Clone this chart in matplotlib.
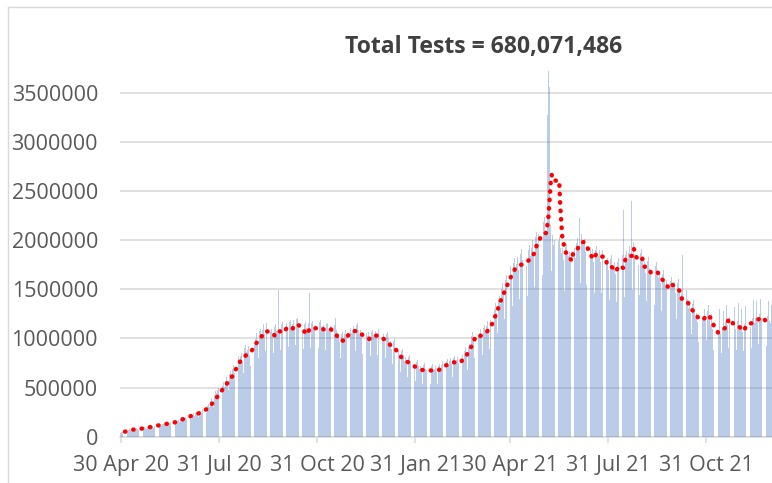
import numpy as np
import pandas as pd
import matplotlib as mpl
mpl.use('Agg')
from matplotlib import pyplot as plt
from matplotlib.lines import Line2D

# daily tests (thousands), one row per week starting 30 Apr 2020
daily_k = [
    38, 45, 52, 58, 60, 48, 55,
    70, 74, 66, 58, 72, 78, 69,
    82, 85, 79, 70, 84, 88, 76,
    92, 96, 90, 81, 95, 99, 88,
    108, 112, 104, 93, 111, 116, 103,
    122, 128, 118, 105, 126, 131, 117,
    138, 142, 131, 117, 140, 146, 130,
    158, 163, 148, 130, 160, 168, 150,
    188, 196, 176, 155, 195, 205, 180,
    218, 228, 205, 182, 225, 236, 212,
    242, 252, 232, 205, 258, 266, 240,
    285, 300, 270, 240, 310, 330, 305,
    360, 390, 345, 300, 420, 460, 440,
    480, 500, 430, 390, 520, 560, 505,
    570, 610, 550, 480, 640, 670, 600,
    690, 730, 650, 560, 780, 820, 760,
    820, 850, 760, 650, 900, 930, 860,
    880, 920, 830, 720, 960, 1000, 930,
    990, 1050, 940, 800, 1080, 1100, 1030,
    1090, 1150, 1040, 870, 1160, 1170, 1120,
    1060, 1100, 1020, 850, 1120, 1150, 1080,
    1080, 1490, 1050, 880, 1150, 1170, 1100,
    1120, 1160, 1090, 910, 1170, 1190, 1130,
    1150, 1190, 1110, 930, 1200, 1210, 1160,
    1100, 1150, 1070, 890, 1150, 1170, 1110,
    1110, 1160, 1460, 900, 1160, 1180, 1120,
    1120, 1170, 1090, 900, 1170, 1190, 1130,
    1090, 1140, 1060, 880, 1150, 1160, 1100,
    1090, 1130, 1050, 870, 1140, 1210, 1090,
    1000, 1040, 960, 800, 1040, 1060, 1000,
    1040, 1090, 1010, 840, 1090, 1110, 1050,
    1080, 1130, 1050, 870, 1140, 1160, 1090,
    1040, 1090, 1010, 840, 1100, 1120, 1050,
    1020, 1060, 980, 820, 1070, 1090, 1030,
    1040, 1080, 1000, 830, 1100, 1130, 1050,
    990, 1040, 960, 800, 1040, 1060, 1000,
    930, 970, 890, 740, 970, 990, 930,
    840, 870, 800, 660, 870, 890, 830,
    770, 810, 740, 610, 810, 830, 770,
    720, 760, 700, 570, 760, 780, 720,
    690, 720, 660, 540, 730, 750, 690,
    680, 710, 660, 540, 720, 740, 680,
    690, 720, 660, 540, 720, 740, 680,
    730, 770, 700, 580, 770, 790, 730,
    770, 800, 740, 610, 800, 820, 770,
    780, 810, 750, 610, 810, 830, 780,
    870, 910, 830, 680, 910, 940, 870,
    1020, 1070, 980, 800, 1070, 1100, 1030,
    1050, 1100, 1010, 830, 1110, 1140, 1060,
    1130, 1180, 1090, 890, 1190, 1220, 1140,
    1300, 1360, 1260, 1050, 1390, 1430, 1350,
    1500, 1560, 1450, 1200, 1590, 1640, 1540,
    1670, 1740, 1620, 1330, 1770, 1820, 1710,
    1760, 1830, 1700, 1400, 1860, 1910, 1800,
    1800, 1870, 1740, 1430, 1900, 1950, 1840,
    1920, 2000, 1850, 1520, 2030, 2080, 1960,
    2060, 2140, 1990, 1640, 2180, 2230, 2100,
    2080, 3270, 3800, 3560, 2150, 1690, 2050,
    1950, 2000, 1880, 1550, 1990, 2030, 1920,
    1870, 1920, 1800, 1480, 1930, 1960, 1850,
    1840, 1880, 1780, 1460, 2450, 1920, 1820,
    1970, 2020, 1900, 2220, 1560, 2060, 1950,
    1950, 2010, 1880, 1540, 2000, 2040, 1930,
    1850, 1910, 1780, 1460, 1900, 1940, 1830,
    1840, 1900, 1780, 1460, 1900, 1940, 1830,
    1760, 1820, 1700, 1390, 1810, 1850, 1750,
    1720, 1780, 1660, 1370, 1780, 1820, 1710,
    1790, 1850, 2310, 1420, 1850, 1890, 1780,
    1870, 1940, 1810, 2400, 1490, 1980, 1860,
    1810, 1870, 1750, 1440, 1870, 1910, 1800,
    1730, 1790, 1670, 1380, 1790, 1830, 1720,
    1690, 1740, 1630, 1340, 1740, 1780, 1680,
    1610, 1670, 1560, 1280, 1660, 1700, 1600,
    1530, 1590, 1480, 1220, 1580, 1620, 1520,
    1510, 1570, 1460, 1200, 1560, 1600, 1500,
    1400, 1460, 1850, 1120, 1450, 1490, 1400,
    1310, 1360, 1260, 1040, 1350, 1390, 1300,
    1210, 1260, 1170, 960, 1250, 1290, 1210,
    1230, 1300, 1190, 980, 1280, 1340, 1230,
    1140, 1250, 1100, 880, 1180, 1330, 1140,
    1080, 1300, 1040, 850, 1110, 1280, 1080,
    1180, 1340, 1140, 900, 1220, 1380, 1180,
    1150, 1320, 1100, 880, 1180, 1360, 1140,
    1110, 1300, 1070, 870, 1150, 1330, 1100,
    1160, 1350, 1120, 900, 1210, 1390, 1160,
    1210, 1380, 1170, 940, 1250, 1400, 1210,
    1180, 1360, 1140, 920, 1230, 1380, 1180,
    1160, 1340,
]

# 7-day moving average (days after 30 Apr 2020, thousands)
trend_day = [4, 11, 19, 27, 34, 42, 49, 56, 63, 71, 78, 84, 88, 93, 97, 102, 106, 109,
             113, 117, 123, 127, 131, 135, 141, 145, 149, 153, 156, 161, 165, 170, 174,
             178, 183, 187, 192, 197, 201, 205, 210, 214, 219, 223, 227, 233, 237, 243,
             248, 253, 257, 261, 266, 271, 276, 282, 289, 294, 299, 305, 312, 318, 323,
             327, 330, 333, 337, 342, 347, 350, 353, 355, 358, 361, 364, 367, 370, 374,
             379, 384, 388, 390, 393, 396, 399, 400, 401, 402, 403, 404, 405, 411, 412,
             413, 414, 416, 417, 419, 423, 424, 428, 431, 434, 437, 439, 443, 446, 450,
             454, 456, 459, 464, 467, 471, 473, 475, 479, 481, 483, 486, 489, 491, 494,
             497, 503, 506, 510, 514, 517, 521, 524, 526, 531, 534, 539, 542, 546, 550,
             553, 556, 560, 564, 568, 570, 575, 579, 584, 587, 592, 596, 601, 606, 610]
trend_k = [51, 71, 81, 96, 112, 129, 139, 167, 200, 228, 261, 309, 373, 438, 509, 570, 641, 712,
           783, 824, 879, 950, 1001, 1072, 1068, 1021, 1072, 1058, 1116, 1099, 1147, 1109, 1038,
           1109, 1103, 1113, 1079, 1093, 1055, 984, 974, 1045, 1075, 1072, 1031, 994, 1031, 1025,
           981, 930, 903, 831, 777, 747, 712, 679, 676, 669, 682, 726, 757, 753, 808,
           879, 946, 1028, 1025, 1052, 1119, 1198, 1276, 1353, 1428, 1510, 1581, 1659, 1713, 1744,
           1764, 1808, 1872, 1951, 2015, 2066, 2073, 2157, 2246, 2411, 2578, 2663, 2605, 2605, 2350,
           2181, 2012, 1927, 1879, 1846, 1788, 1869, 1907, 1968, 1981, 1940, 1879, 1805, 1862, 1832,
           1832, 1750, 1744, 1679, 1740, 1717, 1798, 1835, 1839, 1913, 1832, 1788, 1811, 1730, 1720,
           1669, 1679, 1618, 1571, 1506, 1547, 1513, 1483, 1404, 1381, 1310, 1248, 1198, 1191, 1241,
           1208, 1129, 1058, 1079, 1123, 1201, 1140, 1126, 1075, 1140, 1157, 1180, 1218, 1164, 1150]

tick_dates = ['2020-04-30', '2020-07-31', '2020-10-31', '2021-01-31',
              '2021-04-30', '2021-07-31', '2021-10-31']
tick_labels = ['30 Apr 20', '31 Jul 20', '31 Oct 20', '31 Jan 21',
               '30 Apr 21', '31 Jul 21', '31 Oct 21']
title = 'Total Tests = 680,071,486'

start = pd.Timestamp('2020-04-30')
dates = pd.date_range(start, periods=len(daily_k), freq='D')
tests = np.array(daily_k) * 1000
trend_dates = start + pd.to_timedelta(trend_day, unit='D')
trend = np.array(trend_k) * 1000

plt.rcParams['font.family'] = ['Open Sans', 'DejaVu Sans']
grey = '#d9d9d9'
txt = '#595959'

fig = plt.figure(figsize=(7.72, 4.83), dpi=100)
ax = fig.add_axes([0.1557, 0.0959, 0.8443, 0.757])

ax.bar(dates, tests, width=0.8, color='#4472c4', alpha=0.36, linewidth=0, zorder=2)
ax.plot(trend_dates, trend, color='#ff0000', lw=3.2, linestyle=(0, (0.1, 1.8)),
        dash_capstyle='round', zorder=3)

ax.set_xlim(start - pd.Timedelta(hours=12), dates[-1] + pd.Timedelta(hours=12))
ax.set_ylim(0, 3720000)
ax.set_yticks(np.arange(0, 3500001, 500000))
ax.set_yticklabels([str(v) for v in range(0, 3500001, 500000)])
ax.set_xticks(pd.to_datetime(tick_dates))
ax.set_xticklabels(tick_labels)

ax.grid(axis='y', color=grey, lw=1.1, zorder=0)
ax.set_axisbelow(True)
for s in ['top', 'right', 'left']:
    ax.spines[s].set_visible(False)
ax.spines['bottom'].set_color(grey)
ax.spines['bottom'].set_linewidth(1.1)
ax.spines['bottom'].set_zorder(1)
ax.tick_params(axis='x', colors=grey, length=4.3, width=1.1, pad=9,
               labelcolor=txt, labelsize=15.5)
ax.tick_params(axis='y', length=0, pad=16, labelcolor=txt, labelsize=15.5)

fig.text(0.626, 0.903, title, ha='center', va='center', fontsize=16.6,
         fontweight='bold', color='#404040')

# chart frame (only left and top edges visible)
fig.add_artist(Line2D([8 / 772, 8 / 772], [0, 1 - 7 / 483], transform=fig.transFigure,
                      color=grey, lw=1.0))
fig.add_artist(Line2D([8 / 772, 1], [1 - 7 / 483, 1 - 7 / 483], transform=fig.transFigure,
                      color=grey, lw=1.0))

fig.savefig('out.png', dpi=100)
plt.close('all')
